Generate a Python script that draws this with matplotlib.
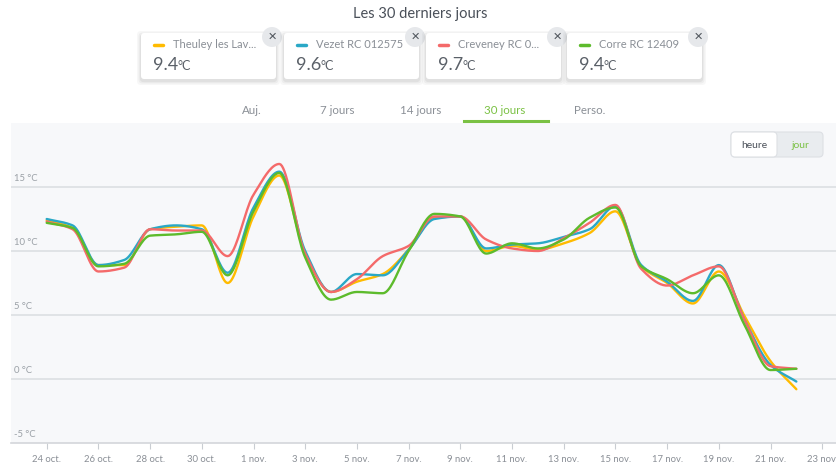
import numpy as np
import matplotlib
matplotlib.use('Agg')
import matplotlib.pyplot as plt
from matplotlib.patches import FancyBboxPatch, Circle
from matplotlib.transforms import blended_transform_factory

plt.rcParams['font.family'] = ['Lato', 'DejaVu Sans']

# data (daily values, 24 oct -> 22 nov)
days = list(range(30))
tick_days = list(range(0, 31, 2))
tick_labels = ['24 oct.', '26 oct.', '28 oct.', '30 oct.', '1 nov.', '3 nov.', '5 nov.',
               '7 nov.', '9 nov.', '11 nov.', '13 nov.', '15 nov.', '17 nov.', '19 nov.',
               '21 nov.', '23 nov.']

names = ['Theuley les Lav...', 'Vezet RC 012575', 'Creveney RC 0...', 'Corre RC 12409']
current = ['9.4', '9.6', '9.7', '9.4']
colors = ['#FFBB00', '#2AA8C6', '#F46A6A', '#5DBB2C']

theuley = [12.4, 11.8, 8.9, 8.9, 11.7, 11.9, 12.0, 7.5, 12.7, 15.9, 9.8, 6.8, 7.6, 8.2, 10.1,
           12.6, 12.7, 10.0, 10.4, 10.1, 10.6, 11.4, 13.1, 8.8, 7.5, 5.9, 8.4, 4.9, 1.4, -0.8]
vezet = [12.5, 12.0, 8.9, 9.3, 11.7, 12.0, 11.7, 8.3, 13.4, 16.2, 10.0, 6.8, 8.2, 8.1, 10.1,
         12.5, 12.7, 10.2, 10.5, 10.6, 11.1, 11.7, 13.5, 8.9, 7.6, 6.1, 8.9, 4.6, 1.1, -0.2]
creveney = [12.3, 11.7, 8.4, 8.7, 11.7, 11.6, 11.6, 9.6, 14.4, 16.8, 9.8, 6.8, 7.8, 9.6, 10.4,
            12.7, 12.7, 10.9, 10.2, 10.0, 11.0, 12.2, 13.6, 8.6, 7.3, 8.1, 8.8, 4.6, 1.0, 0.8]
corre = [12.2, 11.8, 8.8, 9.0, 11.2, 11.3, 11.5, 8.1, 13.1, 16.1, 9.5, 6.2, 6.8, 6.7, 10.0,
         12.9, 12.7, 9.8, 10.6, 10.2, 10.9, 12.6, 13.4, 8.8, 7.8, 6.7, 8.1, 4.2, 0.7, 0.8]
series = [theuley, vezet, creveney, corre]


def monotone(x, y, n=20):
    # Fritsch-Carlson monotone cubic, only for drawing a smooth line
    x = np.asarray(x, float)
    y = np.asarray(y, float)
    h = np.diff(x)
    d = np.diff(y) / h
    m = np.zeros_like(y)
    m[0], m[-1] = d[0], d[-1]
    for i in range(1, len(y) - 1):
        if d[i - 1] * d[i] <= 0:
            m[i] = 0
        else:
            m[i] = 3 * (h[i - 1] + h[i]) / ((2 * h[i] + h[i - 1]) / d[i - 1] + (h[i] + 2 * h[i - 1]) / d[i])
    xs, ys = [], []
    for i in range(len(x) - 1):
        t = np.linspace(0, 1, n, endpoint=False)
        h00 = 2 * t**3 - 3 * t**2 + 1
        h10 = t**3 - 2 * t**2 + t
        h01 = -2 * t**3 + 3 * t**2
        h11 = t**3 - t**2
        xs.append(x[i] + t * h[i])
        ys.append(h00 * y[i] + h10 * h[i] * m[i] + h01 * y[i + 1] + h11 * h[i] * m[i + 1])
    xs.append([x[-1]])
    ys.append([y[-1]])
    return np.concatenate(xs), np.concatenate(ys)


W, H = 837, 466
fig = plt.figure(figsize=(W / 100, H / 100), dpi=100)
fig.patch.set_facecolor('white')

# chart area
ax = fig.add_axes([11 / W, (H - 443) / H, (W - 11) / W, (443 - 123) / H])
ax.set_facecolor('#F7F8FA')
px_day = 25.85
ax.set_xlim(-(46.7 - 11) / px_day, (837 - 46.7) / px_day)
ax.set_ylim(-5, 20)
for v in [0, 5, 10, 15]:
    ax.axhline(v, color='#DCDFE3', lw=1.2, zorder=1)
for s in ['top', 'right', 'left']:
    ax.spines[s].set_visible(False)
ax.spines['bottom'].set_color('#D3D6DA')
ax.spines['bottom'].set_linewidth(1.2)
ax.set_yticks([])
ax.set_xticks(tick_days)
ax.set_xticklabels(tick_labels, fontsize=6.8, color='#8A8F96')
ax.tick_params(axis='x', length=4, color='#C9CDD2', pad=5)
tr = blended_transform_factory(ax.transAxes, ax.transData)
for v in [-5, 0, 5, 10, 15]:
    ax.text(3 / (W - 11), v + 0.35, f'{v} °C', transform=tr, fontsize=6.8,
            color='#9AA0A6', va='bottom', ha='left')

for vals, c in zip(series, colors):
    xs, ys = monotone(days, vals)
    ax.plot(xs, ys, color=c, lw=1.7, zorder=3, solid_capstyle='round')

# overlay in pixel coords for header widgets
ov = fig.add_axes([0, 0, 1, 1], zorder=5)
ov.set_xlim(0, W)
ov.set_ylim(H, 0)
ov.axis('off')
ov.patch.set_alpha(0)

ov.text(420, 14, 'Les 30 derniers jours', ha='center', va='center', fontsize=10.5,
        color='#4A5059')

card_x = [141, 284, 426, 567]
card_w = 135
for cx, name, val, c in zip(card_x, names, current, colors):
    for k, a in [(4, 0.03), (2.5, 0.04), (1.2, 0.05)]:
        ov.add_patch(FancyBboxPatch((cx - k, 33 - k + 2), card_w + 2 * k, 46 + 2 * k,
                                    boxstyle='round,pad=0,rounding_size=4',
                                    fc='black', ec='none', alpha=a))
    ov.add_patch(FancyBboxPatch((cx, 33), card_w, 46, boxstyle='round,pad=0,rounding_size=3',
                                fc='white', ec='none'))
    ov.plot([cx + 13, cx + 22], [45, 45], color=c, lw=2.5, solid_capstyle='round')
    ov.text(cx + 32, 45, name, fontsize=8, color='#8A8F96', va='center', ha='left')
    ov.text(cx + 12, 65, val, fontsize=13, color='#5A6068', va='center', ha='left')
    ov.text(cx + 37, 66, '°C', fontsize=9, color='#5A6068', va='center', ha='left')
    ov.add_patch(Circle((cx + card_w - 4, 37), 10, fc='#E6E8EB', ec='none'))
    ov.text(cx + card_w - 4, 37, '✕', fontsize=8, color='#4F555C', ha='center',
            va='center', family=['DejaVu Sans'], fontweight='bold')

tabs = ['Auj.', '7 jours', '14 jours', '30 jours', 'Perso.']
tab_x = [252, 337, 421, 505, 590]
for t, x in zip(tabs, tab_x):
    ov.text(x, 110, t, fontsize=8.3, ha='center', va='center',
            color='#7AC143' if t == '30 jours' else '#8A8F96')
ov.plot([464, 548], [121, 121], color='#7AC143', lw=2.2)

# heure / jour toggle
ov.add_patch(FancyBboxPatch((731, 132), 92, 25, boxstyle='round,pad=0,rounding_size=4',
                            fc='#E9ECEF', ec='#DDE0E4', lw=0.8))
ov.add_patch(FancyBboxPatch((731, 132), 46, 25, boxstyle='round,pad=0,rounding_size=4',
                            fc='white', ec='#DDE0E4', lw=0.8))
ov.text(754, 145, 'heure', fontsize=7.5, ha='center', va='center', color='#4A5059')
ov.text(800, 145, 'jour', fontsize=7.5, ha='center', va='center', color='#7AC143')

fig.savefig('out.png', dpi=100)
